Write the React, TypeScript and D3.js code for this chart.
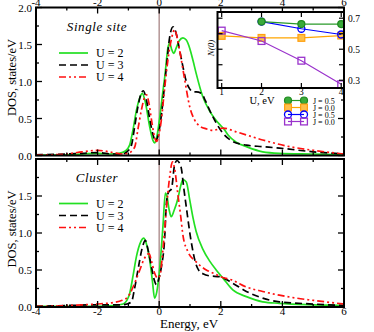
import React from 'react';
import * as d3 from 'd3';

type Pt = [number, number];

// energy (eV), DOS (states/eV)
const singleU2: Pt[] = [
  [-4, 0.005], [-3, 0.01], [-2.5, 0.02], [-2, 0.03], [-1.6, 0.02], [-1.3, 0.03], [-1.1, 0.06],
  [-0.96, 0.14], [-0.85, 0.35], [-0.74, 0.61], [-0.63, 0.78], [-0.55, 0.84], [-0.45, 0.72],
  [-0.31, 0.39], [-0.2, 0.2], [-0.15, 0.17], [-0.08, 0.25], [0.02, 0.52], [0.1, 0.8], [0.18, 1.06],
  [0.29, 1.47], [0.34, 1.52], [0.4, 1.44], [0.47, 1.38], [0.55, 1.45], [0.65, 1.55], [0.77, 1.59],
  [0.88, 1.56], [0.99, 1.45], [1.1, 1.28], [1.2, 1.11], [1.41, 0.8], [1.64, 0.6], [1.8, 0.5],
  [1.96, 0.42], [2.1, 0.36], [2.25, 0.27], [2.5, 0.18], [2.83, 0.12], [3.36, 0.05], [3.9, 0.03],
  [5, 0.02], [6, 0.01],
];
const singleU3: Pt[] = [
  [-4, 0.01], [-3, 0.02], [-2.5, 0.03], [-2, 0.04], [-1.5, 0.02], [-1.2, 0.02], [-1.05, 0.05],
  [-0.9, 0.14], [-0.8, 0.38], [-0.69, 0.66], [-0.6, 0.82], [-0.52, 0.875], [-0.42, 0.76],
  [-0.31, 0.5], [-0.2, 0.28], [-0.12, 0.19], [-0.05, 0.25], [0.02, 0.39], [0.1, 0.65], [0.18, 0.98],
  [0.26, 1.3], [0.34, 1.6], [0.45, 1.74], [0.55, 1.65], [0.66, 1.43], [0.77, 1.2], [0.88, 1.0],
  [0.99, 0.9], [1.1, 0.86], [1.2, 0.86], [1.37, 0.84], [1.5, 0.74], [1.64, 0.61], [1.85, 0.44],
  [2.07, 0.3], [2.39, 0.19], [2.83, 0.14], [3.36, 0.12], [3.9, 0.1], [5, 0.05], [6, 0.02],
];
const singleU4: Pt[] = [
  [-4, 0.01], [-3.5, 0.01], [-3, 0.02], [-2.5, 0.05], [-2, 0.07], [-1.5, 0.04], [-1.2, 0.02],
  [-1, 0.03], [-0.85, 0.08], [-0.79, 0.12], [-0.68, 0.38], [-0.58, 0.61], [-0.48, 0.78],
  [-0.41, 0.82], [-0.33, 0.7], [-0.25, 0.48], [-0.15, 0.25], [-0.09, 0.19], [0, 0.3], [0.07, 0.48],
  [0.15, 0.8], [0.23, 1.11], [0.32, 1.4], [0.4, 1.58], [0.5, 1.7], [0.58, 1.6], [0.66, 1.43],
  [0.83, 1.02], [0.99, 0.66], [1.15, 0.48], [1.31, 0.4], [1.53, 0.36], [1.74, 0.34], [2.07, 0.37],
  [2.5, 0.32], [3.36, 0.21], [4.23, 0.12], [5, 0.07], [6, 0.02],
];

const clusterU2: Pt[] = [
  [-4, 0.01], [-3, 0.01], [-2, 0.01], [-1.5, 0.02], [-1.17, 0.04], [-1.05, 0.09], [-0.96, 0.18],
  [-0.85, 0.42], [-0.74, 0.68], [-0.6, 0.88], [-0.5, 0.93], [-0.4, 0.83], [-0.31, 0.64],
  [-0.22, 0.35], [-0.15, 0.12], [-0.08, 0.2], [0.02, 0.54], [0.12, 1.08], [0.2, 1.54], [0.25, 1.5],
  [0.32, 1.32], [0.39, 1.22], [0.48, 1.3], [0.61, 1.47], [0.7, 1.64], [0.77, 1.72], [0.88, 1.69],
  [0.99, 1.45], [1.1, 1.2], [1.2, 1.02], [1.42, 0.78], [1.64, 0.62], [1.85, 0.5], [2.07, 0.39],
  [2.39, 0.23], [2.83, 0.14], [3.36, 0.07], [3.9, 0.05], [5, 0.03], [6, 0.02],
];
const clusterU3: Pt[] = [
  [-4, 0.01], [-3, 0.02], [-2, 0.03], [-1.5, 0.03], [-1.2, 0.03], [-1.05, 0.04], [-0.9, 0.07],
  [-0.8, 0.25], [-0.69, 0.5], [-0.55, 0.8], [-0.45, 0.9], [-0.35, 0.75], [-0.25, 0.54],
  [-0.15, 0.35], [-0.09, 0.3], [0, 0.4], [0.07, 0.54], [0.18, 0.95], [0.23, 1.38], [0.3, 1.55],
  [0.4, 1.6], [0.5, 1.92], [0.58, 1.98], [0.65, 1.95], [0.72, 1.87], [0.8, 1.6], [0.88, 1.35],
  [1.04, 0.88], [1.2, 0.57], [1.31, 0.48], [1.42, 0.45], [1.64, 0.42], [1.96, 0.41], [2.39, 0.32],
  [2.83, 0.21], [3.36, 0.12], [3.9, 0.07], [5, 0.04], [6, 0.02],
];
const clusterU4: Pt[] = [
  [-4, 0.01], [-3.55, 0.01], [-3, 0.02], [-2.04, 0.04], [-1.5, 0.06], [-1.2, 0.09], [-1.06, 0.12],
  [-0.95, 0.18], [-0.85, 0.27], [-0.63, 0.5], [-0.5, 0.64], [-0.41, 0.7], [-0.33, 0.72],
  [-0.25, 0.62], [-0.15, 0.46], [-0.05, 0.39], [0.02, 0.42], [0.12, 0.77], [0.23, 1.31],
  [0.34, 1.76], [0.43, 1.96], [0.5, 1.87], [0.61, 1.51], [0.7, 1.22], [0.77, 0.97], [0.93, 0.75],
  [1.2, 0.61], [1.53, 0.5], [1.8, 0.45], [2.0, 0.41], [2.39, 0.36], [2.83, 0.27], [3.36, 0.21],
  [3.9, 0.16], [4.45, 0.12], [5, 0.09], [6, 0.04],
];

const uLabels = ['U = 2', 'U = 3', 'U = 4'];
const xTicks = [-4, -2, 0, 2, 4, 6];
const yTicksTop = [0, 0.5, 1.0, 1.5, 2.0];
const yTicksBottom = [0, 0.5, 1.0, 1.5];

// inset N(0) vs U
const insetU = [1, 2, 3, 4];
const n0GreenJ05 = [null, 0.678, 0.662, 0.662];
const n0OrangeJ00 = [0.586, 0.573, 0.573, 0.588];
const n0BlueJ05 = [null, 0.678, 0.632, 0.595];
const n0PurpleJ00 = [0.62, 0.553, 0.426, 0.274];
const insetLegend = ['J = 0.5', 'J = 0.0', 'J = 0.5', 'J = 0.0'];
const insetYTicks = [0.3, 0.5, 0.7];

const FONT = "'Liberation Serif', 'Times New Roman', Times, serif";
const curveStyles = [
  { stroke: '#22e022', dash: undefined },
  { stroke: '#000000', dash: '7,4' },
  { stroke: '#ff1010', dash: '7,3,2,3,2,3' },
];

const L = 36, R = 344;
const x = d3.scaleLinear().domain([-4, 6]).range([L, R]);

function Panel({ top, bottom, series, title, yTicks, titleY, legendY, id, topLabels }: any) {
  const y = d3.scaleLinear().domain([0, 2]).range([bottom, top]);
  const line = d3.line<Pt>().x(d => x(d[0])).y(d => y(d[1])).curve(d3.curveMonotoneX);
  const minorX = d3.range(-4, 6.01, 1);
  const minorY = d3.range(0, 2.01, 0.25);
  return (
    <g>
      <defs>
        <clipPath id={id}>
          <rect x={L} y={top} width={R - L} height={bottom - top} />
        </clipPath>
      </defs>
      <line x1={x(0)} x2={x(0)} y1={top} y2={bottom} stroke="#b89c9c" strokeWidth={1.6} />
      <g clipPath={`url(#${id})`}>
        {series.map((s: Pt[], i: number) => (
          <path key={i} d={line(s) || ''} fill="none" stroke={curveStyles[i].stroke}
            strokeWidth={1.7} strokeDasharray={curveStyles[i].dash} />
        ))}
      </g>
      {minorX.map(v => {
        const len = v % 2 === 0 ? 6 : 3;
        return (
          <g key={'x' + v}>
            <line x1={x(v)} x2={x(v)} y1={bottom} y2={bottom - len} stroke="#000" strokeWidth={1.3} />
            <line x1={x(v)} x2={x(v)} y1={top} y2={top + len} stroke="#000" strokeWidth={1.3} />
          </g>
        );
      })}
      {minorY.map(v => {
        const len = Math.abs(v * 2 - Math.round(v * 2)) < 1e-6 ? 6 : 3;
        return (
          <g key={'y' + v}>
            <line x1={L} x2={L + len} y1={y(v)} y2={y(v)} stroke="#000" strokeWidth={1.3} />
            <line x1={R} x2={R - len} y1={y(v)} y2={y(v)} stroke="#000" strokeWidth={1.3} />
          </g>
        );
      })}
      <rect x={L} y={top} width={R - L} height={bottom - top} fill="none" stroke="#000" strokeWidth={2} />
      {yTicks.map((v: number) => (
        <text key={'yl' + v} x={L - 4} y={y(v) + 4} textAnchor="end" fontSize={11} fontFamily={FONT}>
          {v.toFixed(1)}
        </text>
      ))}
      {xTicks.map(v => (
        <text key={'xl' + v} x={x(v)} y={topLabels ? top - 2 : bottom + 8} textAnchor="middle"
          fontSize={11} fontFamily={FONT}>
          {v}
        </text>
      ))}
      <text x={12} y={(top + bottom) / 2 - 4} transform={`rotate(-90, 12, ${(top + bottom) / 2 - 4})`}
        textAnchor="middle" fontSize={12.5} fontFamily={FONT} dy="0.35em">
        DOS, states/eV
      </text>
      <text x={97} y={titleY} textAnchor="middle" fontSize={13} fontStyle="italic" fontFamily={FONT}
        letterSpacing={0.6}>
        {title}
      </text>
      {uLabels.map((lab, i) => (
        <g key={lab}>
          <line x1={59} x2={88} y1={legendY + i * 12} y2={legendY + i * 12} stroke={curveStyles[i].stroke}
            strokeWidth={1.7} strokeDasharray={curveStyles[i].dash} />
          <text x={96} y={legendY + i * 12 + 4} fontSize={12} fontFamily={FONT}>{lab}</text>
        </g>
      ))}
    </g>
  );
}

function Marker({ kind, cx, cy, color }: any) {
  if (kind === 'fcircle')
    return <circle cx={cx} cy={cy} r={3.5} fill="#3aaa3a" stroke="#1e8a1e" strokeWidth={1.2} />;
  if (kind === 'fsquare')
    return <rect x={cx - 3.4} y={cy - 3.4} width={6.8} height={6.8} fill="#ffc04a" stroke="#ffa010" strokeWidth={1.2} />;
  if (kind === 'ocircle')
    return <circle cx={cx} cy={cy} r={3.5} fill="none" stroke={color} strokeWidth={1.3} />;
  return <rect x={cx - 3.4} y={cy - 3.4} width={6.8} height={6.8} fill="none" stroke={color} strokeWidth={1.3} />;
}

function Inset() {
  const l = 217.5, r = 344, t = 12, b = 88;
  const ix = d3.scaleLinear().domain([0.895, 4.07]).range([l, r]);
  const iy = d3.scaleLinear().domain([0.25, 0.74]).range([b, t]);
  const sets = [
    { vals: n0OrangeJ00, color: '#ffa500', kind: 'fsquare' },
    { vals: n0PurpleJ00, color: '#9a33cc', kind: 'osquare' },
    { vals: n0BlueJ05, color: '#0000ff', kind: 'ocircle' },
    { vals: n0GreenJ05, color: '#2a9a2a', kind: 'fcircle' },
  ];
  const legendOrder = [3, 0, 2, 1];
  const line = d3.line<[number, number | null]>()
    .defined(d => d[1] != null)
    .x(d => ix(d[0])).y(d => iy(d[1] as number));
  return (
    <g>
      <defs>
        <clipPath id="insetclip"><rect x={l} y={t} width={r - l} height={b - t} /></clipPath>
      </defs>
      <rect x={l} y={t} width={r - l} height={b - t} fill="#fff" />
      <g clipPath="url(#insetclip)">
        {sets.map((s, i) => {
          const pts = insetU.map((u, k) => [u, s.vals[k]] as [number, number | null]);
          return (
            <g key={i}>
              <path d={line(pts) || ''} fill="none" stroke={s.color} strokeWidth={1.2} />
              {pts.filter(p => p[1] != null).map((p, k) => (
                <Marker key={k} kind={s.kind} cx={ix(p[0])} cy={iy(p[1] as number)} color={s.color} />
              ))}
            </g>
          );
        })}
      </g>
      {insetU.map(u => (
        <g key={u}>
          <line x1={ix(u)} x2={ix(u)} y1={b} y2={b - 5} stroke="#000" strokeWidth={1.2} />
          <line x1={ix(u)} x2={ix(u)} y1={t} y2={t + 5} stroke="#000" strokeWidth={1.2} />
          <text x={ix(u)} y={b + 7} textAnchor="middle" fontSize={9.5} fontFamily={FONT}>{u}</text>
        </g>
      ))}
      {d3.range(0.3, 0.71, 0.1).map(v => (
        <g key={v}>
          <line x1={l} x2={l + 5} y1={iy(v)} y2={iy(v)} stroke="#000" strokeWidth={1.2} />
          <line x1={r} x2={r - 5} y1={iy(v)} y2={iy(v)} stroke="#000" strokeWidth={1.2} />
        </g>
      ))}
      <rect x={l} y={t} width={r - l} height={b - t} fill="none" stroke="#000" strokeWidth={2} />
      {insetYTicks.map(v => (
        <text key={v} x={r + 4} y={iy(v) + 3.5} fontSize={9.5} fontFamily={FONT}>{v.toFixed(1)}</text>
      ))}
      <text x={211} y={48} transform="rotate(-90, 211, 48)" textAnchor="middle" fontSize={9}
        fontFamily={FONT} fontStyle="italic" dy="0.35em">N(0)</text>
      <text x={262} y={104} textAnchor="middle" fontSize={10.5} fontFamily={FONT}>U, eV</text>
      {legendOrder.map((si, k) => {
        const s = sets[si];
        const yy = 100.5 + k * 7;
        return (
          <g key={k}>
            <line x1={288} x2={304} y1={yy} y2={yy} stroke={s.color} strokeWidth={1.2} />
            <Marker kind={s.kind} cx={288} cy={yy} color={s.color} />
            <Marker kind={s.kind} cx={304} cy={yy} color={s.color} />
            <text x={313} y={yy + 3} fontSize={8} fontFamily={FONT}>{insetLegend[k]}</text>
          </g>
        );
      })}
    </g>
  );
}

export default function App() {
  return (
    <svg width={374} height={332} style={{ position: 'absolute', left: 0, top: 0, background: '#fff' }}>
      <Panel id="clipTop" top={7.5} bottom={155.5} series={[singleU2, singleU3, singleU4]}
        title="Single site" yTicks={yTicksTop} titleY={31} legendY={53} topLabels />
      <Panel id="clipBot" top={159} bottom={307} series={[clusterU2, clusterU3, clusterU4]}
        title="Cluster" yTicks={yTicksBottom} titleY={182} legendY={203.5} />
      <Inset />
      <text x={189} y={328} textAnchor="middle" fontSize={13} fontFamily={FONT}>Energy, eV</text>
    </svg>
  );
}
